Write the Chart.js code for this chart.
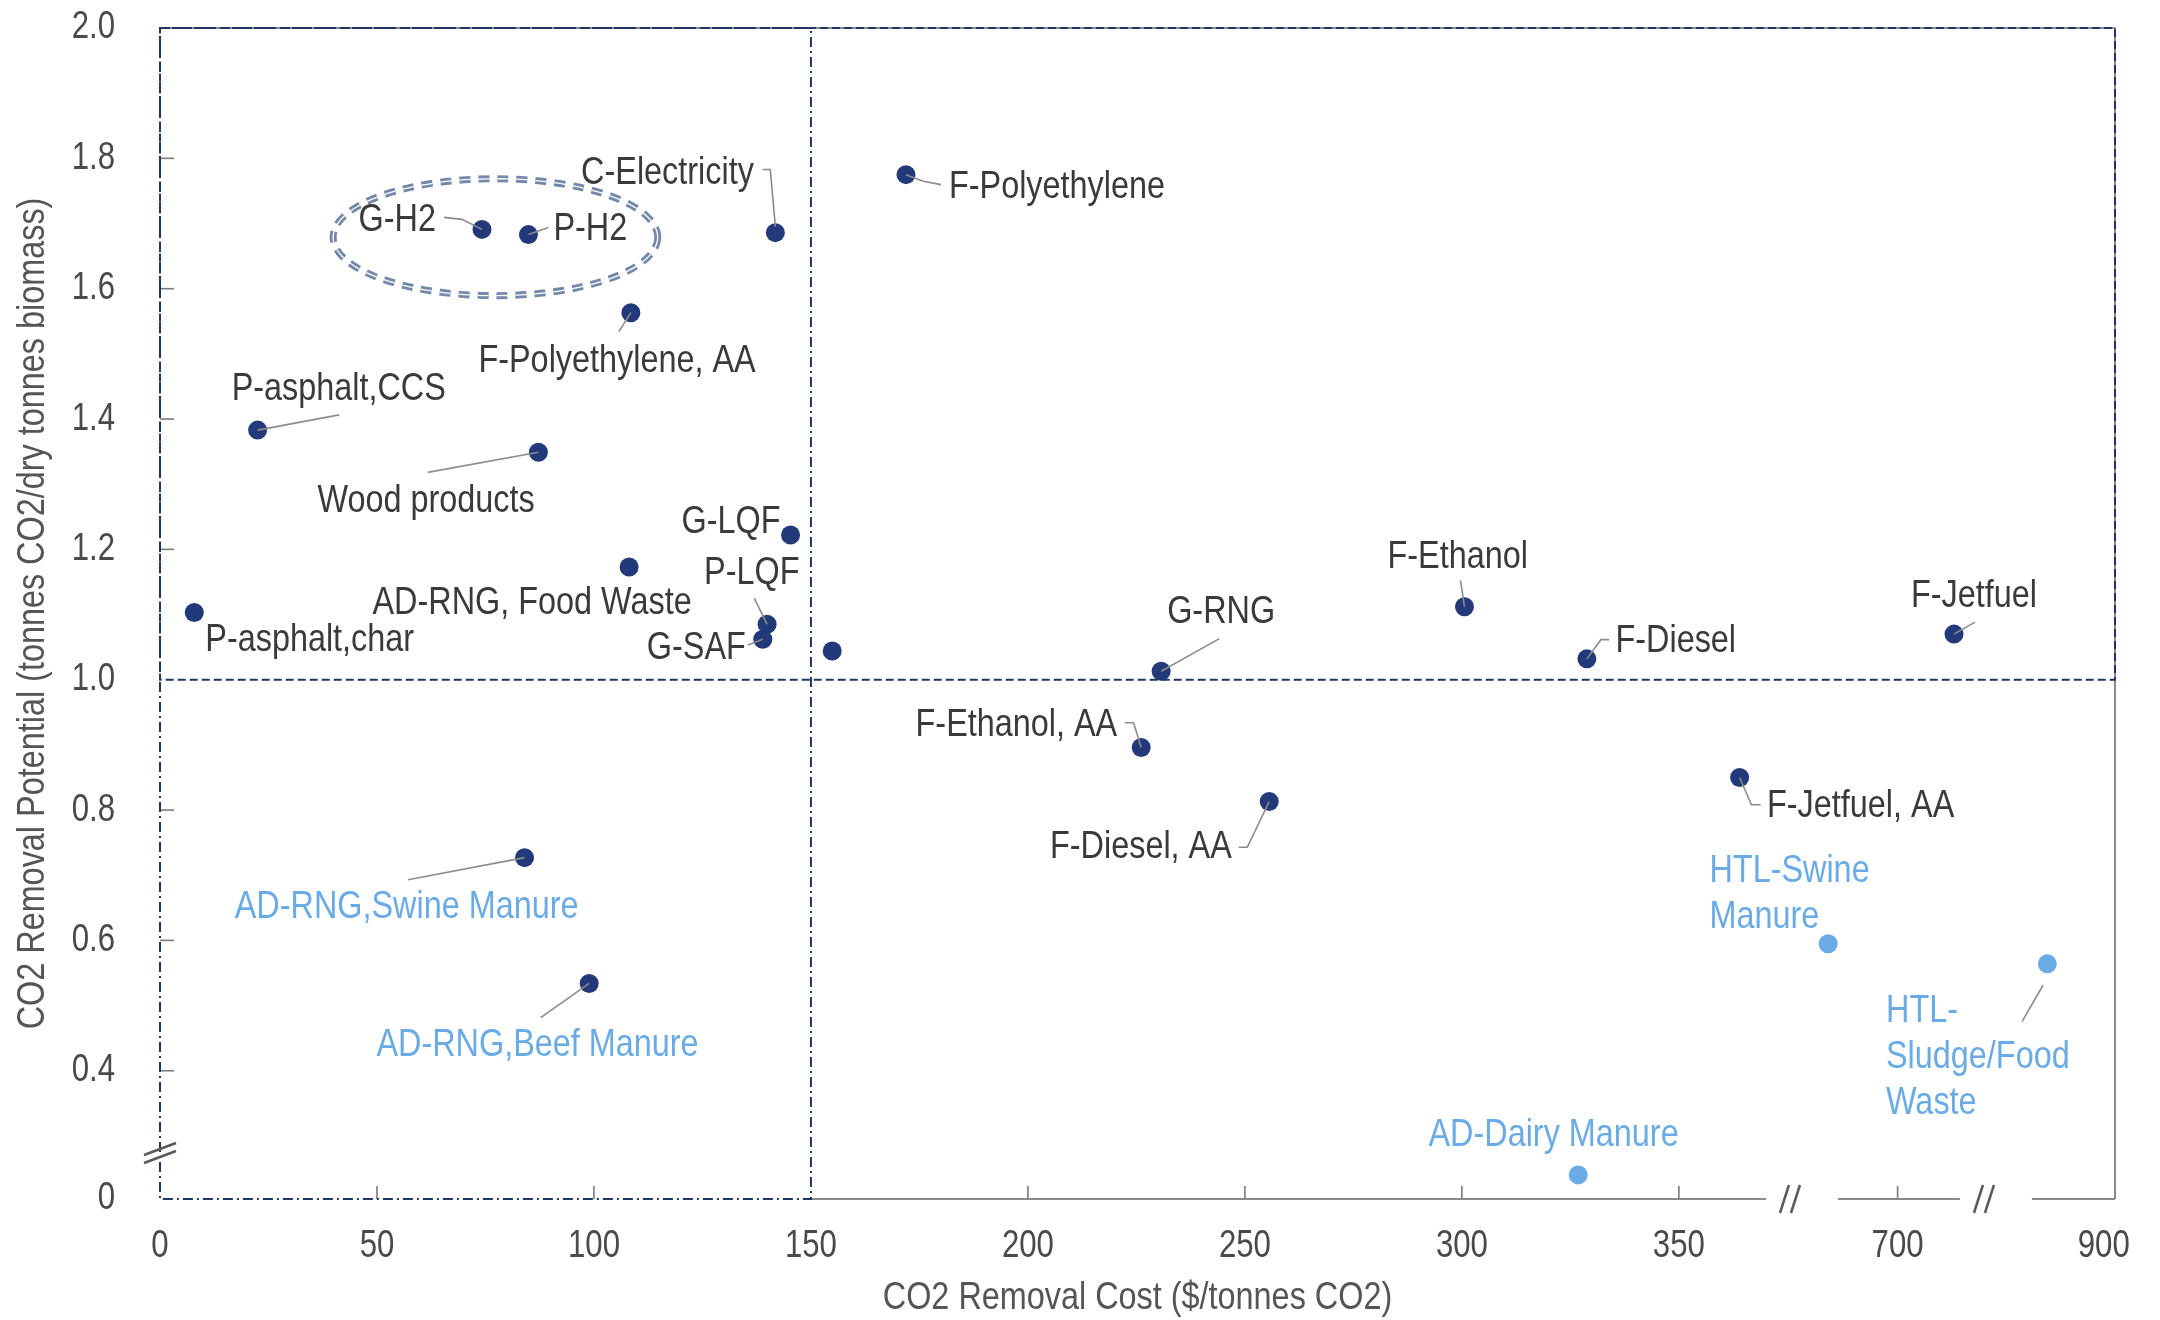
<!DOCTYPE html>
<html>
<head>
<meta charset="utf-8">
<script src="https://cdn.jsdelivr.net/npm/chart.js@4.4.1/dist/chart.umd.min.js"></script>
<style>
  html, body { margin: 0; padding: 0; background: #ffffff; }
  #wrap { width: 2160px; height: 1320px; }
</style>
</head>
<body>
<div id="wrap"><canvas id="chart" width="2160" height="1320"></canvas></div>
<script>
// ---- data -----------------------------------------------------------------
// Pathways drawn with dark markers (null = unlabelled pathway)
const mainNames = [
  'P-asphalt,char', 'P-asphalt,CCS', 'Wood products', 'G-H2', 'P-H2',
  'C-Electricity', 'F-Polyethylene, AA', 'F-Polyethylene', 'G-LQF',
  'AD-RNG, Food Waste', 'P-LQF', 'G-SAF', null, 'G-RNG', 'F-Ethanol',
  'F-Diesel', 'F-Jetfuel', 'F-Ethanol, AA', 'F-Diesel, AA', 'F-Jetfuel, AA',
  'AD-RNG,Swine Manure', 'AD-RNG,Beef Manure'
];
// CO2 removal cost ($/tonnes CO2)
const mainCost = [
  7.9, 22.5, 87.2, 74.2, 84.9,
  141.8, 108.5, 171.9, 145.3,
  108.1, 139.9, 138.9, 154.9, 230.7, 300.6,
  328.8, 713, 226.1, 255.6, 364.0,
  84.0, 98.9
];
// CO2 removal potential (tonnes CO2 / dry tonnes biomass)
const mainPotential = [
  1.103, 1.383, 1.349, 1.691, 1.683,
  1.686, 1.563, 1.775, 1.222,
  1.173, 1.085, 1.062, 1.044, 1.013, 1.112,
  1.032, 1.070, 0.896, 0.813, 0.850,
  0.727, 0.534
];

// Wet-waste pathways drawn with light markers
const wetNames = ['HTL-Swine Manure', 'HTL-Sludge/Food Waste', 'AD-Dairy Manure'];
const wetCost = [684, 887, 326.8];
const wetPotential = [0.595, 0.564, 0.037];

// Axis ticks
const xTickValues = [0, 50, 100, 150, 200, 250, 300, 350, 700, 900];
const yTickValues = [0, 0.4, 0.6, 0.8, 1.0, 1.2, 1.4, 1.6, 1.8, 2.0];
const yTickLabels = ['0', '0.4', '0.6', '0.8', '1.0', '1.2', '1.4', '1.6', '1.8', '2.0'];

// Axis titles
const xTitle = 'CO2 Removal Cost ($/tonnes CO2)';
const yTitle = 'CO2 Removal Potential (tonnes CO2/dry tonnes biomass)';

// Value ranges kept on each side of the axis breaks
const xSegments = [[0, 375.6], [675.2, 719.9], [872.4, 902.6]];
const ySegments = [[0, 0.0706], [0.2738, 2.0]];

// Quadrant thresholds
const costThreshold = 150;
const potentialThreshold = 1.0;

// Cluster outline around the hydrogen pathways (centre and half-axes, data units)
const h2Cluster = { x: 77.3, y: 1.679, rx: 37.4, ry: 0.0897 };

// ---- styling ----------------------------------------------------------------
const SANS = "'Liberation Sans', Arial, Helvetica, sans-serif";
const NARROW_SCALE = 0.82;          // horizontal squeeze for a narrow face
const NAVY = '#22397a';
const NAVY_LINE = '#1f3564';
const LIGHT = '#6aabe6';
const LABEL_DARK = '#3a3a3a';
const TICK_TEXT = '#4a4a4a';
const TITLE_TEXT = '#555555';
const LEADER = '#8c8c8c';
const AXIS_GREY = '#8a8a8a';

// Callout placement relative to each marker (pixels)
const calloutLayout = {
  'P-asphalt,char':        { dx: 11,     dy: 28 },
  'P-asphalt,CCS':         { dx: -26,    dy: -41,   leader: [[0, 0], [81.6, -15.2]] },
  'Wood products':         { dx: -221,   dy: 48.7,  leader: [[0, 0], [-110.7, 20.1]] },
  'G-H2':                  { dx: -46,    dy: -9,    align: 'right', leader: [[0, 0], [-20, -10], [-38, -12]] },
  'P-H2':                  { dx: 25,     dy: -5,    leader: [[0, 0], [20, -7]] },
  'C-Electricity':         { dx: -21.5,  dy: -60,   align: 'right', leader: [[0, -6], [-5.1, -63.2], [-12.7, -63.2]] },
  'F-Polyethylene, AA':    { dx: -152.4, dy: 48,    leader: [[0, 0], [-12, 18.8]] },
  'F-Polyethylene':        { dx: 43,     dy: 12.5,  leader: [[0, 0], [17.4, 6.7], [35, 10]] },
  'G-LQF':                 { dx: -10,    dy: -13,   align: 'right' },
  'AD-RNG, Food Waste':    { dx: -256.6, dy: 35.7 },
  'P-LQF':                 { dx: -63,    dy: -51,   leader: [[0, 0], [-12.8, -26]] },
  'G-SAF':                 { dx: -17,    dy: 9,     align: 'right', leader: [[0, 0], [-14.8, 5.7]] },
  'G-RNG':                 { dx: 6,      dy: -59.4, leader: [[0, 0], [58.2, -32.6]] },
  'F-Ethanol':             { dx: -77,    dy: -50,   leader: [[0, 0], [-4, -26.3]] },
  'F-Diesel':              { dx: 28.6,   dy: -18,   leader: [[0, 0], [14, -19.2], [22.3, -19.2]] },
  'F-Jetfuel':             { dx: -43,    dy: -38,   leader: [[0, 0], [21, -12]] },
  'F-Ethanol, AA':         { dx: -24,    dy: -22,   align: 'right', leader: [[0, 0], [-7.6, -24.8], [-16.3, -24.8]] },
  'F-Diesel, AA':          { dx: -37.4,  dy: 46,    align: 'right', leader: [[0, 0], [-22, 45.7], [-30.6, 45.7]] },
  'F-Jetfuel, AA':         { dx: 27.4,   dy: 28.6,  leader: [[0, 0], [11.8, 27.3], [21, 27.3]] },
  'AD-RNG,Swine Manure':   { dx: -289.8, dy: 49.5,  tone: 'wet', leader: [[0, 0], [-116.5, 22.2]] },
  'AD-RNG,Beef Manure':    { dx: -212.8, dy: 62,    tone: 'wet', leader: [[0, 0], [-48.5, 34.2]] },
  'HTL-Swine Manure':      { dx: -118.7, dy: -72.2, tone: 'wet', lines: ['HTL-Swine', 'Manure'] },
  'HTL-Sludge/Food Waste': { dx: -161.3, dy: 47,    tone: 'wet', lines: ['HTL-', 'Sludge/Food', 'Waste'],
                             leader: [[-4.3, 21.4], [-25.3, 57.7]] },
  'AD-Dairy Manure':       { dx: -149.7, dy: -39.8, tone: 'wet' }
};

// ---- broken linear scale ----------------------------------------------------
// A linear scale whose value range is made of several pieces placed end to end.
class SegmentedScale extends Chart.LinearScale {
  static id = 'segmented';
  static defaults = { ticks: { callback: (v) => String(v) } };

  segs() { return this.options.segments; }

  toVirtual(v) {
    const segs = this.segs();
    let base = 0;
    for (let i = 0; i < segs.length; i++) {
      const [a, b] = segs[i];
      if (v <= b || i === segs.length - 1) return base + Math.max(v, a) - a;
      base += b - a;
    }
    return base;
  }
  fromVirtual(p) {
    const segs = this.segs();
    let base = 0;
    for (let i = 0; i < segs.length; i++) {
      const [a, b] = segs[i];
      if (p <= base + (b - a) || i === segs.length - 1) return a + (p - base);
      base += b - a;
    }
    return p;
  }
  determineDataLimits() {
    this.min = 0;
    this.max = this.segs().reduce((s, [a, b]) => s + (b - a), 0);
  }
  buildTicks() {
    return this.options.tickValues.map((value) => ({ value }));
  }
  getPixelForValue(value) {
    if (value === null || value === undefined) return NaN;
    return super.getPixelForValue(this.toVirtual(value));
  }
  getValueForPixel(pixel) {
    return this.fromVirtual(super.getValueForPixel(pixel));
  }
  breakPixels() {
    const segs = this.segs();
    const out = [];
    let cum = 0;
    for (let i = 0; i < segs.length - 1; i++) {
      cum += segs[i][1] - segs[i][0];
      out.push(super.getPixelForValue(cum));
    }
    return out;
  }
}
Chart.register(SegmentedScale);

// ---- drawing helpers ----------------------------------------------------------
function line(ctx, pts) {
  ctx.beginPath();
  ctx.moveTo(pts[0][0], pts[0][1]);
  for (let i = 1; i < pts.length; i++) ctx.lineTo(pts[i][0], pts[i][1]);
  ctx.stroke();
}

// Text in a narrow rendition of the sans face
function narrowText(ctx, text, x, y, { size = 39, color = LABEL_DARK, align = 'left', rotate = 0 } = {}) {
  ctx.save();
  ctx.translate(x, y);
  if (rotate) ctx.rotate(rotate);
  ctx.scale(NARROW_SCALE, 1);
  ctx.font = `${size}px ${SANS}`;
  ctx.fillStyle = color;
  ctx.textAlign = align;
  ctx.textBaseline = 'middle';
  ctx.fillText(text, 0, 0);
  ctx.restore();
}

// ---- frame, reference lines, breaks, axis text, callouts ---------------------
const decorations = {
  id: 'decorations',
  beforeDatasetsDraw(chart) {
    const { ctx, chartArea: a, scales: { x, y } } = chart;
    const X0 = x.getPixelForValue(0);
    const XT = x.getPixelForValue(costThreshold);
    const XR = a.right;
    const YB = a.bottom;
    const YT = a.top;
    const YH = y.getPixelForValue(potentialThreshold);
    ctx.save();
    ctx.lineCap = 'butt';

    // solid grey frame: top, right and the bottom axis right of the threshold
    ctx.strokeStyle = AXIS_GREY;
    ctx.lineWidth = 2;
    line(ctx, [[X0, YT], [XR, YT], [XR, YB]]);
    const gaps = x.breakPixels().map((p) => [p - 24, p + 48]);
    let start = XT;
    gaps.forEach(([g0, g1]) => { line(ctx, [[start, YB], [g0, YB]]); start = g1; });
    line(ctx, [[start, YB], [XR, YB]]);

    // inward tick marks
    ctx.lineWidth = 1.6;
    ctx.strokeStyle = '#7a7a7a';
    x.ticks.forEach((t) => {
      if (t.value === 0 || t.value === costThreshold || t.value === 900) return;
      const px = x.getPixelForValue(t.value);
      line(ctx, [[px, YB], [px, YB - 13]]);
    });
    y.ticks.forEach((t) => {
      if (t.value === 0 || t.value === potentialThreshold || t.value === 2.0) return;
      const py = y.getPixelForValue(t.value);
      line(ctx, [[X0, py], [X0 + 14, py]]);
    });

    // dashed box: high removal potential band
    ctx.strokeStyle = NAVY_LINE;
    ctx.lineWidth = 2;
    ctx.setLineDash([8, 4]);
    ctx.strokeRect(X0, YT, XR - X0, YH - YT);

    // dash-dot box: low cost band
    ctx.setLineDash([10, 4, 2, 4]);
    ctx.strokeRect(X0, YT, XT - X0, YB - YT);
    ctx.setLineDash([]);

    // axis break marks
    ctx.strokeStyle = '#5a5a5a';
    ctx.lineWidth = 2.5;
    x.breakPixels().forEach((p) => {
      [-5.5, 5.5].forEach((o) => line(ctx, [[p + o - 4.5, YB + 14], [p + o + 4.5, YB - 14]]));
    });
    y.breakPixels().forEach((p) => {
      [-4, 4].forEach((o) => line(ctx, [[X0 - 16, p + o + 6], [X0 + 16, p + o - 6]]));
    });

    // hydrogen cluster outline (double dashed)
    const cx = x.getPixelForValue(h2Cluster.x);
    const cy = y.getPixelForValue(h2Cluster.y);
    const rx = x.getPixelForValue(h2Cluster.x + h2Cluster.rx) - cx;
    const ry = cy - y.getPixelForValue(h2Cluster.y + h2Cluster.ry);
    ctx.setLineDash([11, 8]);
    ctx.lineWidth = 7;
    ctx.strokeStyle = '#7489aa';
    ctx.beginPath();
    ctx.ellipse(cx, cy, rx, ry, 0, 0, Math.PI * 2);
    ctx.stroke();
    ctx.lineWidth = 1.3;
    ctx.strokeStyle = '#ffffff';
    ctx.stroke();
    ctx.restore();

    // tick labels and axis titles
    x.ticks.forEach((t) => {
      narrowText(ctx, String(t.value), x.getPixelForValue(t.value), YB + 48,
                 { size: 38, color: TICK_TEXT, align: 'center' });
    });
    y.ticks.forEach((t, i) => {
      narrowText(ctx, yTickLabels[i], X0 - 45, y.getPixelForValue(t.value),
                 { size: 38, color: TICK_TEXT, align: 'right' });
    });
    narrowText(ctx, xTitle, (a.left + a.right) / 2, YB + 99,
               { size: 39.5, color: TITLE_TEXT, align: 'center' });
    narrowText(ctx, yTitle, X0 - 127, (a.top + a.bottom) / 2,
               { size: 39.5, color: TITLE_TEXT, align: 'center', rotate: -Math.PI / 2 });
  },

  afterDatasetsDraw(chart) {
    const { ctx } = chart;
    const lineGap = 46;
    chart.data.datasets.forEach((ds, di) => {
      const meta = chart.getDatasetMeta(di);
      ds.names.forEach((name, i) => {
        const lay = name && calloutLayout[name];
        if (!lay) return;
        const el = meta.data[i];
        const px = el.x, py = el.y;
        if (lay.leader) {
          ctx.save();
          ctx.strokeStyle = LEADER;
          ctx.lineWidth = 1.6;
          line(ctx, lay.leader.map(([dx, dy]) => [px + dx, py + dy]));
          ctx.restore();
        }
        const lines = lay.lines || [name];
        lines.forEach((t, k) => narrowText(ctx, t, px + lay.dx, py + lay.dy + k * lineGap, {
          size: 39.5,
          color: lay.tone === 'wet' ? LIGHT : LABEL_DARK,
          align: lay.align || 'left'
        }));
      });
    });
  }
};

// ---- chart ------------------------------------------------------------------
const toPoints = (xs, ys) => xs.map((v, i) => ({ x: v, y: ys[i] }));

new Chart(document.getElementById('chart'), {
  type: 'scatter',
  data: {
    datasets: [
      {
        label: 'Pathways',
        names: mainNames,
        data: toPoints(mainCost, mainPotential),
        backgroundColor: NAVY,
        borderWidth: 0,
        pointRadius: 9.5,
        pointHoverRadius: 9.5
      },
      {
        label: 'Wet-waste pathways',
        names: wetNames,
        data: toPoints(wetCost, wetPotential),
        backgroundColor: LIGHT,
        borderWidth: 0,
        pointRadius: 9.5,
        pointHoverRadius: 9.5
      }
    ]
  },
  options: {
    responsive: false,
    animation: false,
    devicePixelRatio: 1,
    events: [],
    layout: { padding: { top: 28, right: 45, bottom: 0, left: 0 } },
    plugins: { legend: { display: false }, tooltip: { enabled: false } },
    scales: {
      x: {
        type: 'segmented',
        position: 'bottom',
        segments: xSegments,
        tickValues: xTickValues,
        border: { display: false },
        grid: { drawOnChartArea: false, drawTicks: false, color: 'rgba(0,0,0,0)' },
        ticks: { display: false, autoSkip: false, maxRotation: 0, minRotation: 0 },
        title: { display: false },
        afterFit(scale) { scale.height = 121; }
      },
      y: {
        type: 'segmented',
        position: 'left',
        segments: ySegments,
        tickValues: yTickValues,
        border: { display: false },
        grid: { drawOnChartArea: false, drawTicks: false, color: 'rgba(0,0,0,0)' },
        ticks: { display: false, autoSkip: false },
        title: { display: false },
        afterFit(scale) { scale.width = 160; }
      }
    }
  },
  plugins: [decorations]
});
</script>
</body>
</html>
